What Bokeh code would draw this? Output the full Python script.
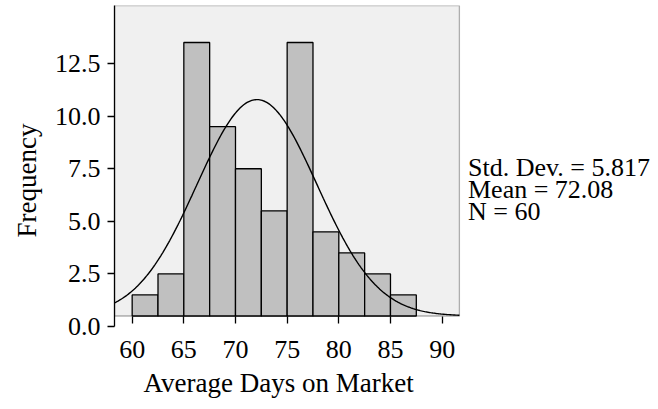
import numpy as np
from bokeh.plotting import figure
from bokeh.models import FixedTicker, CustomJSTickFormatter, BoxAnnotation, Range1d, Title
from bokeh.core.properties import value
from bokeh.embed import file_html
from bokeh.resources import INLINE

# Data
bin_edges = [60.0, 62.5, 65.0, 67.5, 70.0, 72.5, 75.0, 77.5, 80.0, 82.5, 85.0, 87.5]
counts = [1, 2, 13, 9, 7, 5, 13, 4, 3, 2, 1]
std_dev = 5.817
mean = 72.08
n_obs = 60
bin_width = 2.5
baseline = 0.5  # SPSS draws bars from this offset

x_ticks = [60, 65, 70, 75, 80, 85, 90]
y_ticks = [0.0, 2.5, 5.0, 7.5, 10.0, 12.5]
stats_lines = ["Std. Dev. = 5.817", "Mean = 72.08", "N = 60"]
stats_y = [7.56, 6.53, 5.49]
x_title = "Average Days on Market"
y_title = "Frequency"

FONT = "Liberation Serif"
FS_TICK = "26px"
FS_TEXT = "27px"
FS_STATS = "26px"

x0, x_frame_right, x_end = 58.29, 91.67, 110.94
p = figure(width=658, height=409, output_backend="svg", toolbar_location=None,
           x_range=Range1d(x0, x_end), y_range=Range1d(0, 15.26),
           min_border_left=114, min_border_right=0, min_border_top=5, min_border_bottom=83)
p.outline_line_color = None
p.background_fill_color = "white"
p.border_fill_color = "white"
p.xgrid.visible = False
p.ygrid.visible = False

bg = BoxAnnotation(bottom=baseline, right=x_frame_right, fill_color="#f0f0f0", fill_alpha=1.0,
                   line_color="black", line_width=1.3, level="underlay")
p.add_layout(bg)

lefts = bin_edges[:-1]
rights = bin_edges[1:]
tops = [c + baseline for c in counts]
p.quad(left=lefts, right=rights, bottom=baseline, top=tops,
       fill_color="#c0c0c0", line_color="black", line_width=1.3)

xs = np.linspace(x0, x_frame_right, 300)
ys = n_obs * bin_width * np.exp(-0.5 * ((xs - mean) / std_dev) ** 2) / (std_dev * np.sqrt(2 * np.pi)) + baseline
p.line(xs, ys, line_color="black", line_width=1.4)

p.text(x=[92.5] * 3, y=stats_y, text=stats_lines, text_font=value(FONT),
       text_font_size=FS_STATS, text_color="black", text_baseline="middle", text_align="left")

# y axis
p.yaxis.ticker = FixedTicker(ticks=y_ticks)
p.yaxis.formatter = CustomJSTickFormatter(code="return tick.toFixed(1);")
p.yaxis.minor_tick_line_color = None
p.yaxis.major_tick_in = 0
p.yaxis.major_tick_out = 7
p.yaxis.axis_line_color = "black"
p.yaxis.axis_line_width = 1.3
p.yaxis.major_tick_line_width = 1.3
p.yaxis.major_label_text_font = FONT
p.yaxis.major_label_text_font_size = FS_TICK
p.yaxis.major_label_text_color = "black"
p.yaxis.major_label_standoff = 7

# x axis
p.xaxis.ticker = FixedTicker(ticks=x_ticks)
p.xaxis.minor_tick_line_color = None
p.xaxis.axis_line_color = None
p.xaxis.major_tick_in = 10
p.xaxis.major_tick_out = -3
p.xaxis.major_tick_line_width = 1.3
p.xaxis.major_label_text_font = FONT
p.xaxis.major_label_text_font_size = FS_TICK
p.xaxis.major_label_text_color = "black"
p.xaxis.major_label_standoff = 14

# axis titles placed as Titles so they can be offset like the reference
xt = Title(text=x_title, align="left", offset=29, text_font=FONT, text_font_size=FS_TEXT,
           text_font_style="normal", text_color="black", standoff=11)
p.add_layout(xt, "below")
yt = Title(text=y_title, align="left", offset=89, text_font=FONT, text_font_size=FS_TEXT,
           text_font_style="normal", text_color="black", standoff=16, vertical_align="top")
p.add_layout(yt, "left")

open("out.html", "w").write(file_html(p, INLINE))
